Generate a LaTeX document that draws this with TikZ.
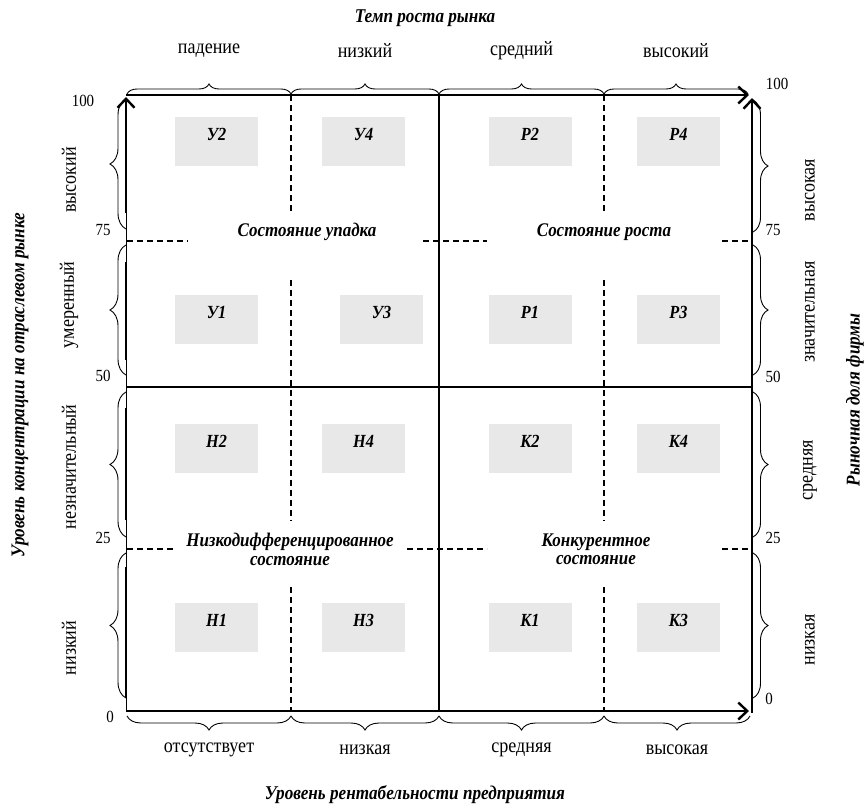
\documentclass[tikz,border=0pt]{standalone}
\usepackage{fontspec}
\setmainfont{Liberation Serif}[FakeStretch=0.88]
\usetikzlibrary{decorations.pathreplacing,arrows.meta}
\begin{document}
\begin{tikzpicture}[x=1pt,y=-1pt,
  ax/.style={line width=2.6pt,-{Straight Barb[length=9pt,width=17pt,line width=2.4pt]}},
  thk/.style={line width=2pt},
  thn/.style={line width=1.3pt},
  midl/.style={line width=1.3pt},
  dsh/.style={line width=1.8pt,dash pattern=on 6pt off 4pt},
  cell/.style={fill=black!9,minimum width=83pt,minimum height=49pt,inner sep=0pt,anchor=north},
  clab/.style={font=\fontsize{18.5}{20}\selectfont\bfseries\itshape},
  zone/.style={font=\fontsize{19.3}{18.5}\selectfont\bfseries\itshape,align=center},
  ttl/.style={font=\fontsize{19.5}{20}\selectfont\bfseries\itshape},
  lab/.style={font=\fontsize{20.5}{22}\selectfont},
  num/.style={font=\fontsize{17}{19}\selectfont},
  brc/.style={decorate,decoration={brace,amplitude=#1},line width=0.9pt},
  brcm/.style={decorate,decoration={brace,mirror,amplitude=#1},line width=0.9pt}
]
\useasboundingbox (0,0) rectangle (864,806);
% cells
\foreach \n/\x/\y/\t in {a/216.5/117/У2, b/363.5/117/У4, c/530/117/Р2, d/678.5/117/Р4,
  e/216.5/295/У1, f/381.5/295/У3, g/530/295/Р1, h/678.5/295/Р3,
  i/216.5/424/Н2, j/363.5/424/Н4, k/530/424/К2, l/678.5/424/К4,
  m/216.5/603/Н1, n/363.5/603/Н3, o/530/603/К1, p/678.5/603/К3}{
  \node[cell] (box\n) at (\x,\y) {};
  \node[clab] (lab\n) at (\x,\y+17) {\t};
}
% mid lines
\draw[midl] (439,95) -- (439,711);
\draw[midl] (126,387) -- (752,387);
% dashed lines
\foreach \x in {291,604}{
  \draw[dsh] (\x,95) -- (\x,213);
  \draw[dsh] (\x,280) -- (\x,521);
  \draw[dsh] (\x,587) -- (\x,711);
}
\draw[dsh] (127,241) -- (188,241);
\draw[dsh] (423,241) -- (487,241);
\draw[dsh] (722,241) -- (750,241);
\draw[dsh] (127,549) -- (174,549);
\draw[dsh] (407,549) -- (487,549);
\draw[dsh] (722,549) -- (750,549);
% axes
\draw[thn] (126.5,711) -- (126.5,100);
\draw[ax] (126,213) -- (126,97);
\draw[thk] (126,262) -- (126,360);
\draw[thk] (126,408) -- (126,520);
\draw[thk] (126,567) -- (126,698);
\draw[ax] (126,711) -- (749,711);
\draw[ax] (126,95) -- (749,95);
\draw[ax] (752,713) -- (752,98);
% zone texts
\node[zone] (z1) at (307,232) {Состояние упадка};
\node[zone] (z2) at (604,232) {Состояние роста};
\node[zone] (z3) at (290,549.5) {Низкодифференцированное\\состояние};
\node[zone] (z4) at (596,549.5) {Конкурентное\\состояние};
% top braces
\foreach \a/\b/\t/\nm in {127/291/падение/t1, 291/439/низкий/t2, 439/604/средний/t3, 604/748/высокий/t4}{
  \draw[brc=10pt] (\a,94) -- (\b,94);
  \node[lab] (\nm) at ({(\a+\b)/2},51) {\t};
}
% bottom braces
\foreach \a/\b/\t/\nm in {127/291/отсутствует/b1, 291/439/низкая/b2, 439/604/средняя/b3, 604/750/высокая/b4}{
  \draw[brcm=14pt] (\a,716) -- (\b,716);
  \node[lab] (\nm) at ({(\a+\b)/2},750) {\t};
}
% left braces
\foreach \a/\b/\t/\c/\nm in {698/553/низкий/648/l1, 537/392/незначительный/467/l2, 375/245/умеренный/305/l3, 229/99/высокий/180/l4}{
  \draw[brc=16pt] (126,\a) -- (126,\b);
  \node[lab,rotate=90] (\nm) at (69,\c) {\t};
}
% right braces
\foreach \a/\b/\t/\c/\nm in {100/232/высокая/190/r4, 245/375/значительная/312/r3, 392/537/средняя/470/r2, 553/698/низкая/640/r1}{
  \draw[brc=15pt] (753,\a) -- (753,\b);
  \node[lab,rotate=90] (\nm) at (810,\c) {\t};
}
% numbers
\node[num] (n100l) at (83,101) {100};
\node[num] (n75l) at (103,230) {75};
\node[num] (n50l) at (103,376) {50};
\node[num] (n25l) at (103,538) {25};
\node[num] (n0l) at (110,717) {0};
\node[num] (n100r) at (777,84) {100};
\node[num] (n75r) at (773,230) {75};
\node[num] (n50r) at (773,377) {50};
\node[num] (n25r) at (773,538) {25};
\node[num] (n0r) at (769,699) {0};
% titles
\node[ttl] (tt) at (425,18) {Темп роста рынка};
\node[ttl] (tb) at (415,795) {Уровень рентабельности предприятия};
\node[ttl,rotate=90] (tl) at (20,385) {Уровень концентрации на отраслевом рынке};
\node[ttl,rotate=90] (tr) at (855,400) {Рыночная доля фирмы};
\end{tikzpicture}
\end{document}
